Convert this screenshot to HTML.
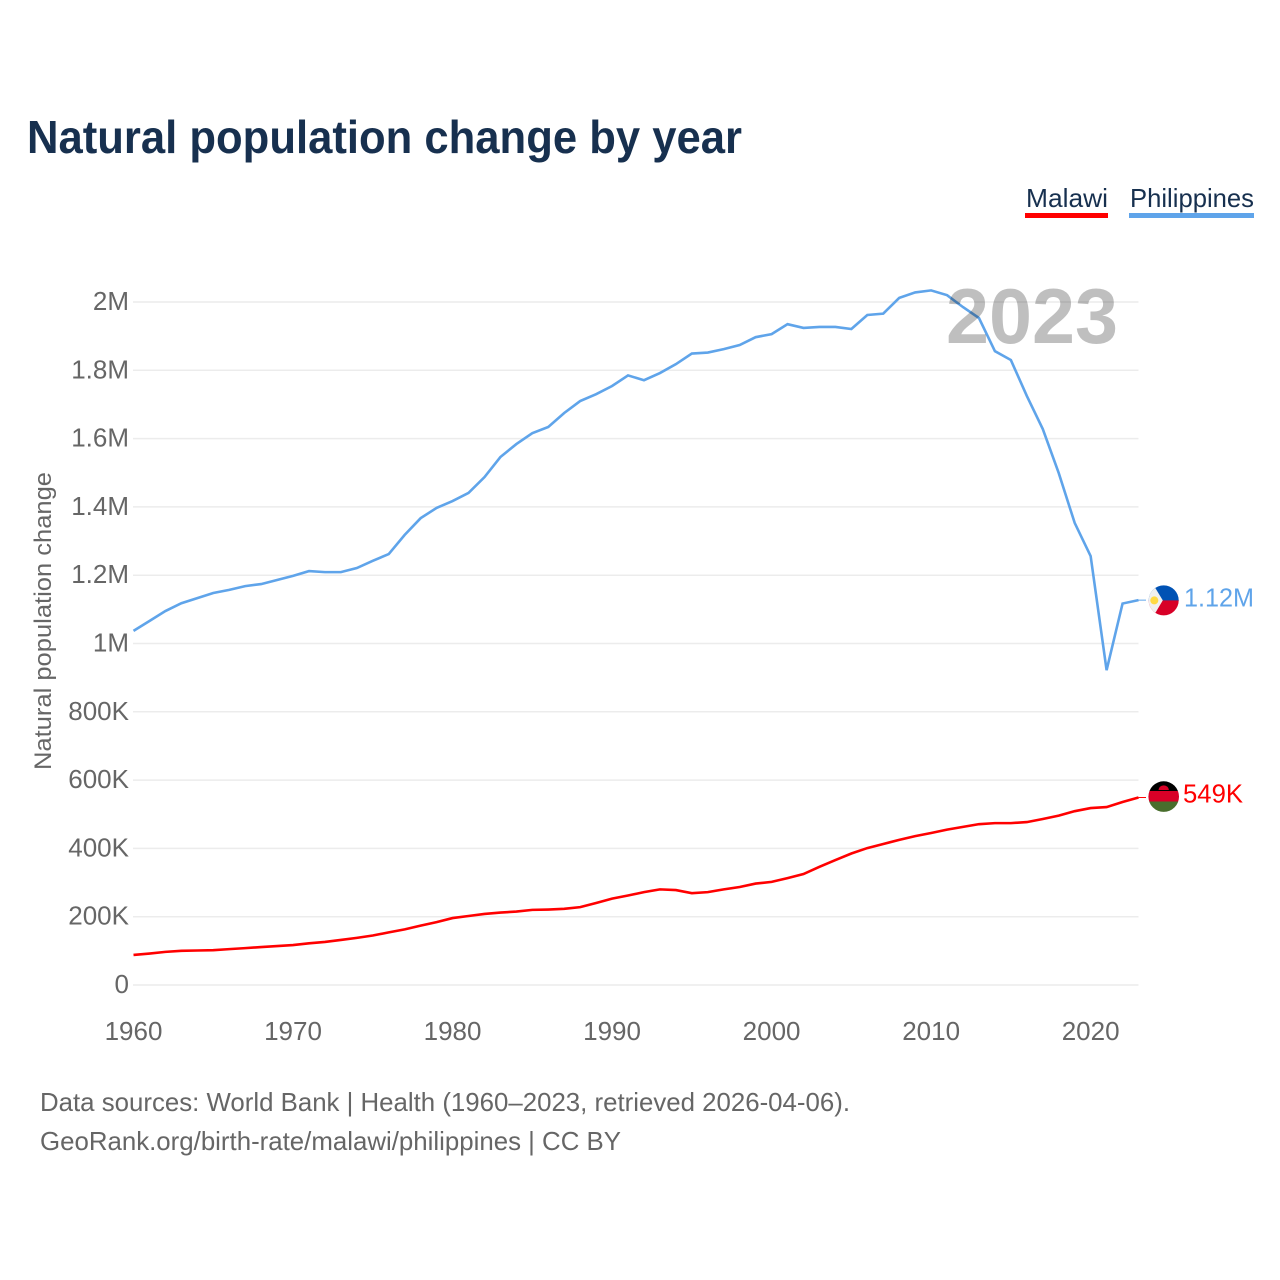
<!DOCTYPE html>
<html lang="en">
<head>
<meta charset="utf-8">
<title>Natural population change by year</title>
<style>
html,body{margin:0;padding:0;background:#fff;}
svg{display:block;}
text{font-family:"Liberation Sans",sans-serif;}
</style>
</head>
<body>
<svg id="chart" xmlns="http://www.w3.org/2000/svg" width="1280" height="1280" viewBox="0 0 1280 1280">
  <defs>
    <clipPath id="clip-ph"><circle cx="1163.7" cy="600.4" r="15"/></clipPath>
    <clipPath id="clip-mw"><circle cx="1163.7" cy="796.6" r="15.3"/></clipPath>
  </defs>
  <rect x="0" y="0" width="1280" height="1280" fill="#ffffff"/>
  <text x="27" y="153" font-size="46" font-weight="700" fill="#17304f" textLength="715" lengthAdjust="spacingAndGlyphs">Natural population change by year</text>

  <g>
    <g>
      <text x="1026" y="207" font-size="26" fill="#17304f" textLength="82" lengthAdjust="spacingAndGlyphs">Malawi</text>
      <rect x="1025" y="213" width="83" height="5" fill="#ff0000"/>
    </g>
    <g>
      <text x="1130" y="207" font-size="26" fill="#17304f" textLength="124" lengthAdjust="spacingAndGlyphs">Philippines</text>
      <rect x="1129" y="213" width="125" height="5" fill="#5fa4ea"/>
    </g>
  </g>

  <g id="grid"></g>
  <g id="y-axis"></g>
  <g id="x-axis"></g>
  <text transform="translate(51,621) rotate(-90)" text-anchor="middle" font-size="24" fill="#666666" textLength="298" lengthAdjust="spacingAndGlyphs">Natural population change</text>

  <g id="series"></g>

  <text id="year-label" x="946" y="343" font-size="78" font-weight="700" fill="#000000" fill-opacity="0.25" textLength="172" lengthAdjust="spacingAndGlyphs"></text>

  <g id="end-labels"></g>

  <g id="flag-ph" clip-path="url(#clip-ph)">
    <rect x="1148" y="585" width="32" height="16" fill="#0052b4"/>
    <rect x="1148" y="600.4" width="32" height="16" fill="#d80027"/>
    <polygon points="1148,585 1153.5,585 1162.8,600.4 1153.5,616 1148,616" fill="#f0f0f0"/>
    <circle cx="1154.3" cy="600.4" r="4" fill="#ffda44"/>
  </g>
  <g id="flag-mw" clip-path="url(#clip-mw)">
    <rect x="1148" y="781" width="32" height="10.5" fill="#000000"/>
    <rect x="1148" y="791" width="32" height="11" fill="#d80027"/>
    <rect x="1148" y="801.5" width="32" height="11" fill="#496e2d"/>
    <path d="M1158.5,790 a5.2,4.6 0 0 1 10.4,0 z" fill="#d80027"/>
  </g>

  <g>
    <text x="40" y="1111" font-size="26" fill="#666666" textLength="810" lengthAdjust="spacingAndGlyphs">Data sources: World Bank | Health (1960–2023, retrieved 2026-04-06).</text>
    <text x="40" y="1150" font-size="26" fill="#666666" textLength="581" lengthAdjust="spacingAndGlyphs">GeoRank.org/birth-rate/malawi/philippines | CC BY</text>
  </g>
</svg>
<script>
// Chart data (natural population change, thousands of people)
const firstYear = 1960;
const lastYear = 2023;
const philippinesValues = [1037,1066,1095,1118,1133,1148,1157,1168,1174,1186,1198,1212,1209,1209,1221,1242,1262,1318,1367,1397,1417,1441,1487,1546,1584,1616,1634,1675,1710,1730,1754,1785,1771,1792,1818,1849,1852,1862,1874,1897,1906,1935,1924,1927,1927,1921,1962,1966,2012,2028,2034,2020,1985,1953,1856,1830,1725,1628,1499,1353,1256,922,1117,1127];
const malawiValues = [88,92,97,100,101,102,105,108,111,114,117,122,126,132,138,145,154,163,174,184,196,202,208,212,215,220,221,223,228,240,253,262,272,280,278,269,272,280,287,297,302,313,325,346,366,385,401,413,425,436,445,455,463,471,474,474,477,486,496,509,518,521,536,549];
const yTickValues = [0,200,400,600,800,1000,1200,1400,1600,1800,2000];
const yTickLabels = ["0","200K","400K","600K","800K","1M","1.2M","1.4M","1.6M","1.8M","2M"];
const xTickValues = [1960,1970,1980,1990,2000,2010,2020];
const xTickLabels = ["1960","1970","1980","1990","2000","2010","2020"];
const philippinesEndLabel = "1.12M";
const malawiEndLabel = "549K";

const NS = "http://www.w3.org/2000/svg";
function xScale(year) { return 133.5 + (year - firstYear) * (1138.5 - 133.5) / (lastYear - firstYear); }
function yScale(v) { return 985 - v * (985 - 302) / 2000; }
function linePath(values) {
  return values.map(function (v, i) {
    return (i ? "L" : "M") + xScale(firstYear + i).toFixed(2) + "," + yScale(v).toFixed(2);
  }).join(" ");
}
function svgEl(tag, attrs, parentId) {
  const el = document.createElementNS(NS, tag);
  Object.keys(attrs).forEach(function (k) { el.setAttribute(k, attrs[k]); });
  document.getElementById(parentId).appendChild(el);
  return el;
}

yTickValues.forEach(function (v, i) {
  const y = yScale(v);
  const line = svgEl("line", {x1: 133, x2: 1138.5, y1: y, y2: y, stroke: "#ececec", "stroke-width": 1.5}, "grid");
  
  
  const label = svgEl("text", {x: 129, y: y + 8, "text-anchor": "end", "font-size": 26, fill: "#666666"}, "y-axis");
  label.textContent = yTickLabels[i];
  
  
});

xTickValues.forEach(function (v, i) {
  const label = svgEl("text", {x: xScale(v), y: 1040, "text-anchor": "middle", "font-size": 26, fill: "#666666"}, "x-axis");
  label.textContent = xTickLabels[i];
  
  
});

const phLine = svgEl("path", {d: linePath(philippinesValues), fill: "none", stroke: "#5fa4ea", "stroke-width": 2.6, "stroke-linejoin": "miter"}, "series");


const mwLine = svgEl("path", {d: linePath(malawiValues), fill: "none", stroke: "#ff0000", "stroke-width": 2.6, "stroke-linejoin": "miter"}, "series");



document.getElementById("year-label").textContent = String(lastYear);

const phEndY = yScale(philippinesValues[philippinesValues.length - 1]);
const mwEndY = yScale(malawiValues[malawiValues.length - 1]);

const phConn = svgEl("line", {x1: xScale(lastYear), x2: 1146, y1: phEndY, y2: phEndY, stroke: "#5fa4ea", "stroke-width": 1}, "end-labels");


const mwConn = svgEl("line", {x1: xScale(lastYear), x2: 1146, y1: mwEndY, y2: mwEndY, stroke: "#ff0000", "stroke-width": 1}, "end-labels");



const phEnd = svgEl("text", {x: 1184, y: phEndY + 6.5, "font-size": 26, fill: "#5fa4ea", textLength: 70, lengthAdjust: "spacingAndGlyphs"}, "end-labels");
phEnd.textContent = philippinesEndLabel;


const mwEnd = svgEl("text", {x: 1183, y: mwEndY + 5, "font-size": 26, fill: "#ff0000", textLength: 60, lengthAdjust: "spacingAndGlyphs"}, "end-labels");
mwEnd.textContent = malawiEndLabel;


</script>
</body>
</html>
